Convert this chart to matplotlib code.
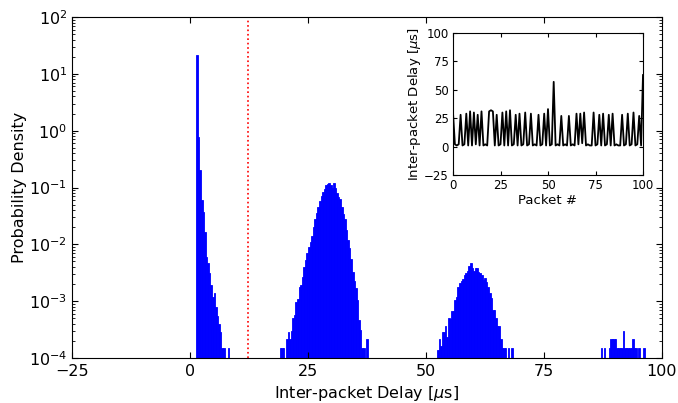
import numpy as np
import matplotlib
matplotlib.use("Agg")
import matplotlib.pyplot as plt

# ---------------- data ----------------
bin_w = 1.0 / 3.0

# cluster 1 (~1-8 us)
c1_start = 4 / 3
c1_vals = [21.5, 0.78, 0.2, 0.06, 0.037, 0.0166, 0.006, 0.0047, 0.0031, 0.0019,
           0.0012, 0.0014, 0.0008, 0.00055, 0.0004, 0.00029, 0.00015, 0.00015,
           0.0, 0.0, 0.00015]

# cluster 2 (~19-38 us)
c2_start = 19.0
c2_vals = [1.5e-4, 1.5e-4, 1.5e-4, 0.0, 2.2e-4, 2.9e-4, 2.2e-4, 3.0e-4, 5.0e-4, 5.7e-4,
           9.8e-4, 1.1e-3, 1.75e-3, 1.9e-3, 2.7e-3, 4.0e-3, 5.3e-3, 6.9e-3, 9.1e-3, 1.1e-2,
           1.4e-2, 2.0e-2, 2.8e-2, 3.6e-2, 4.6e-2, 5.8e-2, 7.0e-2, 8.3e-2, 0.095, 0.11,
           0.115, 0.118, 0.11, 0.10, 0.118, 0.097, 0.08, 0.069, 0.062, 0.045,
           0.034, 0.028, 0.018, 0.012, 0.0085, 0.0055, 0.0033, 0.0023, 0.0017, 0.00105,
           0.00047, 0.00031, 0.00015, 0.00015, 0.0, 0.00022]

# cluster 3 (~52-68 us)
c3_start = 157 / 3
c3_vals = [1.4e-4, 2.2e-4, 1.6e-4, 2.9e-4, 2.9e-4, 3.6e-4, 2.3e-4, 5.0e-4, 4.8e-4, 6.7e-4,
           6.7e-4, 1.05e-3, 1.2e-3, 1.75e-3, 2.06e-3, 2.26e-3, 2.5e-3, 2.9e-3, 3.1e-3, 3.4e-3,
           4.2e-3, 4.6e-3, 3.8e-3, 3.4e-3, 3.9e-3, 3.8e-3, 3.3e-3, 3.1e-3, 2.9e-3, 2.35e-3,
           2.6e-3, 2.2e-3, 1.8e-3, 1.38e-3, 1.15e-3, 7e-4, 7e-4, 5e-4, 3.6e-4, 3.6e-4,
           2.2e-4, 1.5e-4, 1.5e-4, 1.5e-4, 0.0, 1.5e-4, 0.0, 1.5e-4]

# cluster 4 (~87-96 us)
c4_start = 87.0
c4_vals = [1.5e-4, 0.0, 1.5e-4, 0.0, 0.0, 1.5e-4, 2.2e-4, 2.2e-4, 2.2e-4, 2.2e-4,
           1.5e-4, 1.5e-4, 1.5e-4, 1.5e-4, 3.0e-4, 1.5e-4, 1.5e-4, 1.5e-4, 1.5e-4, 1.5e-4,
           2.2e-4, 1.5e-4, 1.5e-4, 0.0, 1.5e-4, 0.0, 0.0, 1.5e-4]

threshold = 12.3

# inset: inter-packet delay per packet
packet_delay = [30, 2, 1, 2, 28, 1, 2, 29, 1, 31,
                1, 30, 2, 28, 1, 31, 1, 2, 1, 31,
                32, 31, 1, 28, 1, 2, 30, 1, 31, 1,
                32, 1, 2, 28, 1, 29, 1, 2, 30, 1,
                2, 29, 1, 2, 1, 28, 1, 2, 29, 1,
                33, 1, 2, 57, 1, 2, 1, 27, 1, 2,
                1, 27, 1, 2, 1, 29, 2, 29, 3, 30,
                1, 2, 1, 1, 30, 1, 2, 28, 1, 29,
                1, 2, 28, 1, 29, 1, 2, 1, 1, 28,
                1, 2, 29, 1, 2, 30, 1, 2, 27, 1,
                63]

xticks_main = [-25, 0, 25, 50, 75, 100]
yticks_inset = [-25, 0, 25, 50, 75, 100]
xticks_inset = [0, 25, 50, 75, 100]

# ---------------- figure ----------------
fig = plt.figure(figsize=(6.78, 4.03), dpi=100)
ax = fig.add_axes([72 / 678, 1 - 358 / 403, 590 / 678, 341 / 403])

for start, vals in [(c1_start, c1_vals), (c2_start, c2_vals),
                    (c3_start, c3_vals), (c4_start, c4_vals)]:
    lefts = start + bin_w * np.arange(len(vals))
    ax.bar(lefts, vals, width=bin_w, align='edge', color='blue',
           edgecolor='blue', linewidth=0.6)

ax.axvline(threshold, color='red', linestyle=':', linewidth=1.2)

ax.set_yscale('log')
ax.set_ylim(1e-4, 1e2)
ax.set_xlim(-25, 100)
ax.set_xticks(xticks_main)
ax.set_xlabel(r'Inter-packet Delay [$\mu$s]', fontsize=11.5)
ax.set_ylabel('Probability Density', fontsize=11.5, labelpad=1.5)
ax.tick_params(which='both', direction='in', top=True, right=True, labelsize=11.5)
ax.tick_params(which='major', length=4, width=0.8)
ax.tick_params(which='minor', length=2, width=0.6)
ax.tick_params(axis='x', which='major', pad=4)

# inset
axi = fig.add_axes([453 / 678, 1 - 175 / 403, 190 / 678, 142 / 403])
axi.plot(np.arange(len(packet_delay)), packet_delay, color='black', linewidth=1.3)
axi.set_xlim(0, 100)
axi.set_ylim(-25, 100)
axi.set_xticks(xticks_inset)
axi.set_yticks(yticks_inset)
axi.set_xlabel('Packet #', fontsize=9.5, labelpad=1)
axi.set_ylabel(r'Inter-packet Delay [$\mu$s]', fontsize=9.5, labelpad=1)
axi.tick_params(which='both', direction='in', top=True, right=True, labelsize=8.5, length=3, width=0.8, pad=3)

fig.savefig('out.png', dpi=100)
